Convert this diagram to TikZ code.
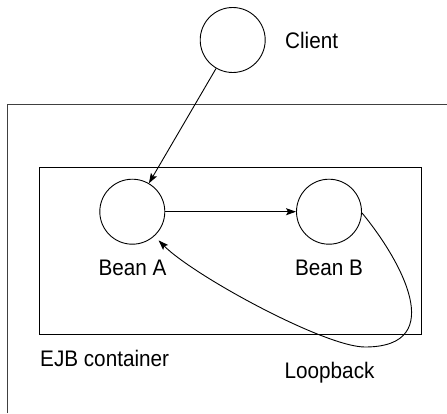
\documentclass[tikz,border=0pt]{standalone}
\usepackage{fontspec}
\setmainfont{Liberation Sans}[FakeStretch=0.92]
\usetikzlibrary{arrows.meta}

\begin{document}
\begin{tikzpicture}[x=1pt,y=1pt,
  bean/.style={draw, circle, inner sep=0pt, minimum size=65pt, line width=0.9pt},
  lbl/.style={font=\fontsize{22.5}{27}\selectfont},
  arr/.style={-{Stealth[length=10pt,width=7pt,inset=2pt]}, line width=0.9pt}]
\useasboundingbox (0,0) rectangle (447,413);
\draw[line width=1.2pt, black!75] (7.3,0) -- (7.3,308.7) -- (447,308.7);
\draw[line width=0.9pt] (39.3,78.3) rectangle (421.7,245.3);
\node[bean] (client) at (232.7,373) {};
\node[bean] (beanA) at (132.3,201.3) {};
\node[bean] (beanB) at (329,201.3) {};
\node[lbl, anchor=base west, inner sep=0pt] (clientlbl) at (285,364.5) {Client};
\node[lbl, anchor=base] (beanAlbl) at (132.5,137.7) {Bean A};
\node[lbl, anchor=base] (beanBlbl) at (329,137.7) {Bean B};
\node[lbl, anchor=base west, inner sep=0pt] (ejblbl) at (40,46.3) {EJB container};
\node[lbl, anchor=base west, inner sep=0pt] (looplbl) at (284.5,34.7) {Loopback};
\coordinate (loopbottom) at (365,66);
\draw[arr] (client) -- (beanA);
\draw[arr] (beanA) -- (beanB);
\draw[arr, shorten >=6pt] (beanB.-2) .. controls +(38,-46) and +(85,0) .. (loopbottom)
  .. controls +(-40,0) and +(40,-40) .. (beanA.-48);
\end{tikzpicture}
\end{document}
